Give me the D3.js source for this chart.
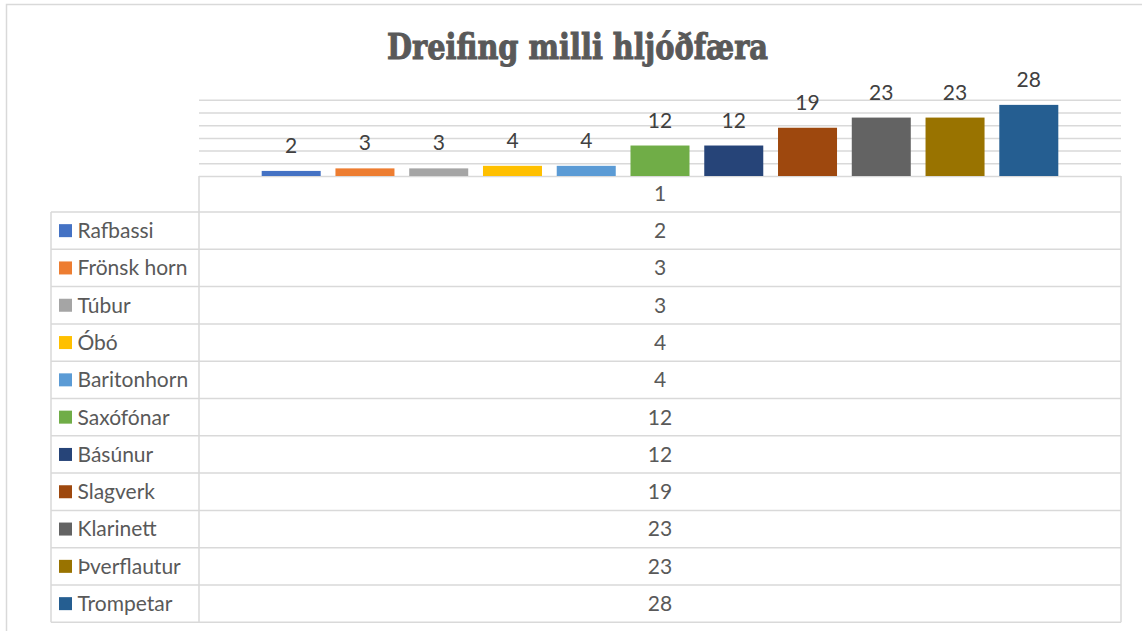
<!DOCTYPE html>
<html>
<head>
<meta charset="utf-8">
<script src="https://cdn.jsdelivr.net/npm/d3@7"></script>
<style>
  html, body { margin: 0; padding: 0; background: #fff; }
  svg { display: block; }
</style>
</head>
<body>
<svg id="chart" width="1142" height="631"></svg>
<script>
// ---- data ----
const title = "Dreifing milli hljóðfæra";
const categories = ["1"];
const seriesNames = ["Rafbassi", "Frönsk horn", "Túbur", "Óbó", "Baritonhorn", "Saxófónar", "Básúnur", "Slagverk", "Klarinett", "Þverflautur", "Trompetar"];
const seriesValues = [2, 3, 3, 4, 4, 12, 12, 19, 23, 23, 28];
const seriesColors = ["#4472C4", "#ED7D31", "#A5A5A5", "#FFC000", "#5B9BD5", "#70AD47", "#264478", "#9E480E", "#636363", "#997300", "#255E91"];
const yTicks = [0, 5, 10, 15, 20, 25, 30];

// ---- layout ----
const svg = d3.select("#chart");
const gridColor = "#d9d9d9";
const textColor = "#595959";
const labelColor = "#404040";
const fontFam = "Lato, 'Open Sans', sans-serif";
const fs = 21;

const plotL = 199, plotR = 1121, plotT = 99.8, plotB = 176;
const tableL = 51, headerB = 212, rowH = 37.3;
const tableB = headerB + rowH * seriesNames.length;

// outer chart border
svg.append("rect")
  .attr("x", 6.5).attr("y", 4.5).attr("width", 1160).attr("height", 650)
  .attr("fill", "#fff").attr("stroke", gridColor).attr("stroke-width", 1.5);

// title
svg.append("text")
  .attr("x", 577.5).attr("y", 58.5)
  .attr("text-anchor", "middle")
  .attr("font-family", "'DejaVu Serif', serif")
  .attr("font-weight", "bold")
  .attr("font-size", 36)
  .attr("fill", textColor)
  .attr("stroke", textColor)
  .attr("stroke-width", 1.1)
  .attr("textLength", 381)
  .attr("lengthAdjust", "spacingAndGlyphs")
  .text(title);

// scales
const x0 = d3.scaleBand().domain(categories).range([plotL, plotR]).padding(0);
const x1 = d3.scaleBand().domain(seriesNames).range([0, x0.bandwidth()])
  .paddingInner(0.2).paddingOuter(0.85);
const y = d3.scaleLinear().domain([0, 30]).range([plotB, plotT]);

// gridlines
const gridAxis = d3.axisLeft(y).tickValues(yTicks).tickSize(-(plotR - plotL)).tickFormat("");
const gg = svg.append("g").attr("transform", `translate(${plotL},0)`).call(gridAxis);
gg.select(".domain").remove();
gg.selectAll(".tick line").attr("stroke", gridColor).attr("stroke-width", 1.5);

// bars
const catG = svg.selectAll(".cat").data(categories).enter().append("g")
  .attr("transform", d => `translate(${x0(d)},0)`);

const barData = seriesNames.map((n, i) => ({ name: n, value: seriesValues[i], color: seriesColors[i] }));

catG.selectAll("rect.bar").data(barData).enter().append("rect")
  .attr("class", "bar")
  .attr("x", d => x1(d.name))
  .attr("width", x1.bandwidth())
  .attr("y", d => y(d.value))
  .attr("height", d => y(0) - y(d.value))
  .attr("fill", d => d.color);

catG.selectAll("text.val").data(barData).enter().append("text")
  .attr("class", "val")
  .attr("x", d => x1(d.name) + x1.bandwidth() / 2)
  .attr("y", d => y(d.value) - 18)
  .attr("text-anchor", "middle")
  .attr("font-family", fontFam)
  .attr("font-size", fs)
  .attr("fill", labelColor)
  .text(d => d.value);

// data table
const tg = svg.append("g");
const line = (x1_, y1_, x2_, y2_) => tg.append("line")
  .attr("x1", x1_).attr("y1", y1_).attr("x2", x2_).attr("y2", y2_)
  .attr("stroke", gridColor).attr("stroke-width", 1.5);

line(plotL, plotB, plotL, tableB);
line(plotR, plotB, plotR, tableB);
line(tableL, headerB, tableL, tableB);
for (let i = 0; i <= seriesNames.length; i++) {
  const yy = headerB + i * rowH;
  line(tableL, yy, plotR, yy);
}

tg.selectAll("text.cat").data(categories).enter().append("text")
  .attr("x", d => x0(d) + x0.bandwidth() / 2)
  .attr("y", (plotB + headerB) / 2)
  .attr("dy", "0.35em")
  .attr("text-anchor", "middle")
  .attr("font-family", fontFam).attr("font-size", fs).attr("fill", textColor)
  .text(d => d);

const rows = tg.selectAll("g.row").data(barData).enter().append("g")
  .attr("transform", (d, i) => `translate(0,${headerB + i * rowH + rowH / 2})`);

rows.append("rect")
  .attr("x", 59).attr("y", -6.5).attr("width", 13).attr("height", 13)
  .attr("fill", d => d.color);

rows.append("text")
  .attr("x", 77.5).attr("dy", "0.35em")
  .attr("font-family", fontFam).attr("font-size", fs).attr("fill", textColor)
  .text(d => d.name);

rows.append("text")
  .attr("x", x0(categories[0]) + x0.bandwidth() / 2).attr("dy", "0.35em")
  .attr("text-anchor", "middle")
  .attr("font-family", fontFam).attr("font-size", fs).attr("fill", textColor)
  .text(d => d.value);
</script>
</body>
</html>
